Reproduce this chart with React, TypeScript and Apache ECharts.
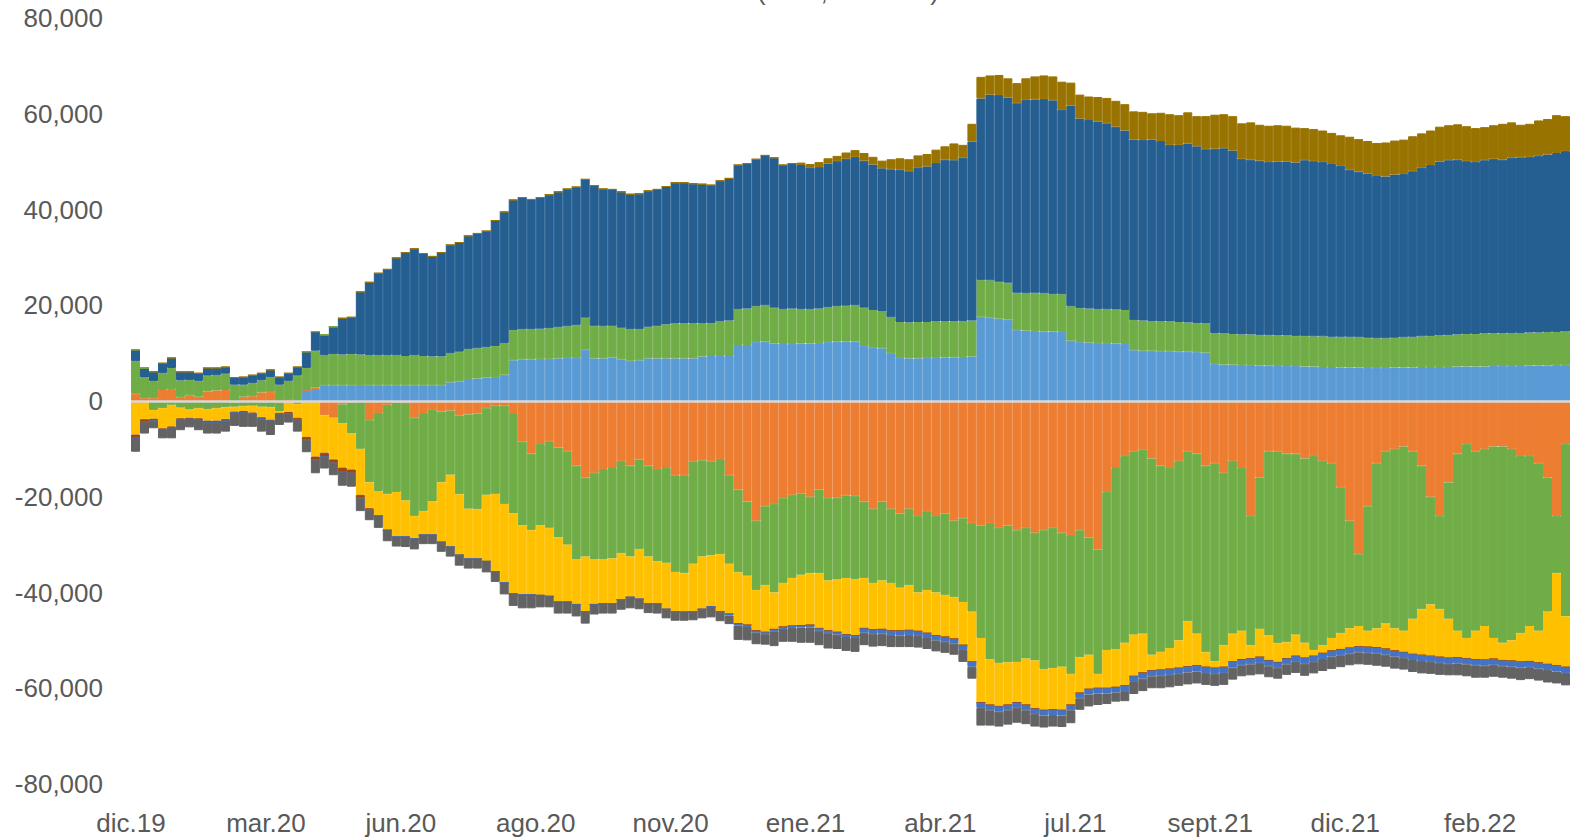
import React, { useEffect, useRef } from "react";
import * as echarts from "echarts";

const tickLabels = ["dic.19", "mar.20", "jun.20", "ago.20", "nov.20", "ene.21", "abr.21", "jul.21", "sept.21", "dic.21", "feb.22"];

const lightBlue = [
  0, 0, 0, 0, 0, 0, 0, 0, 0, 0,
  0, 0, 0, 0, 0, 0, 0, 0, 0, 2300,
  2500, 3300, 3300, 3300, 3300, 3300, 3300, 3300, 3300, 3300,
  3300, 3300, 3300, 3300, 3300, 3900, 4100, 4600, 4700, 4900,
  5000, 5500, 8500, 8700, 8700, 8800, 8800, 8900, 9000, 9000,
  10700, 8900, 8900, 9100, 8700, 8400, 8500, 8900, 8900, 8900,
  8900, 8900, 8900, 9300, 9400, 9400, 9400, 11700, 11700, 12300,
  12400, 12000, 11900, 11900, 12000, 12000, 12100, 12300, 12400, 12400,
  12400, 11500, 11100, 11000, 10000, 9000, 8900, 8900, 9000, 9000,
  9100, 9100, 9200, 9300, 17600, 17400, 17200, 17000, 14800, 14700,
  14600, 14500, 14500, 14400, 12600, 12300, 12200, 12100, 12100, 12000,
  11900, 10600, 10500, 10500, 10400, 10400, 10300, 10300, 10200, 10100,
  7700, 7600, 7600, 7500, 7500, 7400, 7400, 7300, 7300, 7300,
  7200, 7200, 7100, 7100, 7000, 7000, 7000, 6900, 6900, 6900,
  7000, 7000, 7000, 7100, 7100, 7100, 7100, 7200, 7200, 7200,
  7200, 7300, 7300, 7300, 7300, 7400, 7400, 7400, 7500, 7500,
];

const orange = [
  1500, 600, 600, 2300, 2500, 800, 1200, 900, 2000, 2200,
  2300, -300, 900, 1000, 1800, 1900, -400, 200, -300, 0,
  300, -3000, -3500, -700, -300, 0, -4000, -2500, -800, -300,
  -400, -3500, -2500, -1900, -2200, -2000, -3000, -2800, -2600, -1500,
  -1000, -1000, -2500, -8500, -11000, -9000, -8400, -9700, -10500, -13500,
  -16000, -15000, -14200, -14000, -12500, -13500, -12200, -13500, -14200, -14000,
  -15500, -15500, -12600, -12400, -12600, -12100, -15500, -18500, -21000, -25000,
  -22000, -21500, -20300, -19600, -19300, -20000, -18500, -20300, -20200, -19700,
  -19800, -21000, -22500, -21000, -22500, -23500, -22500, -24000, -23000, -24000,
  -23500, -25000, -24500, -25500, -26000, -25500, -26500, -26000, -27000, -26500,
  -27500, -27000, -26500, -27500, -28000, -27000, -28500, -31000, -19000, -14000,
  -11500, -10500, -10200, -12000, -13500, -14000, -12500, -10500, -11000, -13500,
  -13000, -15000, -12500, -14000, -24000, -16000, -10500, -10500, -11000, -11000,
  -12000, -11500, -12500, -13000, -18000, -25000, -32000, -22000, -13000, -10500,
  -10000, -9500, -10500, -13500, -20000, -24000, -17000, -11000, -9000, -10500,
  -10000, -9500, -9500, -10000, -11500, -11500, -13000, -16000, -24000, -9000,
];

const greenUp = [
  6800, 4300, 3500, 3500, 4400, 3500, 3200, 3300, 3300, 3200,
  3400, 3400, 2500, 2700, 2500, 3100, 3400, 4000, 5300, 4600,
  7700, 6300, 6500, 6400, 6500, 6400, 6300, 6300, 6300, 6300,
  6100, 6300, 6100, 6000, 6000, 6100, 6200, 6200, 6300, 6400,
  6500, 6600, 6300, 6300, 6300, 6300, 6400, 6500, 6600, 6900,
  6700, 6800, 6700, 6600, 6600, 6600, 6500, 6600, 6800, 7100,
  7300, 7300, 7300, 6900, 6900, 7300, 7400, 7500, 7600, 7500,
  7600, 7500, 7300, 7400, 7200, 7200, 7200, 7300, 7400, 7500,
  7600, 8000, 7900, 7700, 7500, 7500, 7500, 7600, 7500, 7600,
  7500, 7500, 7500, 7500, 7700, 7800, 7700, 7700, 7800, 7800,
  8000, 8000, 7800, 7900, 7200, 7100, 7100, 7100, 7100, 7100,
  7100, 6300, 6300, 6200, 6200, 6200, 6200, 6100, 6100, 6100,
  6500, 6500, 6400, 6400, 6400, 6400, 6400, 6400, 6400, 6300,
  6400, 6300, 6400, 6300, 6400, 6400, 6300, 6300, 6200, 6200,
  6200, 6300, 6400, 6400, 6500, 6600, 6700, 6700, 6800, 6800,
  6900, 6800, 6800, 6900, 6900, 6900, 6900, 7000, 6900, 7000,
];

const darkBlue = [
  2400, 2000, 2000, 2100, 2100, 1800, 1700, 1600, 1600, 1500,
  1400, 1500, 1600, 1700, 1500, 1500, 1600, 1600, 1800, 3400,
  4000, 4200, 5700, 7600, 7700, 13100, 15200, 17100, 17900, 20300,
  21600, 22200, 21400, 20900, 21700, 22600, 22800, 23700, 24000, 24200,
  26200, 27400, 27200, 27500, 27100, 27400, 27900, 28300, 28700, 28800,
  28900, 29300, 28700, 28500, 28400, 28200, 28300, 28400, 28500, 28800,
  29400, 29400, 29200, 29100, 28800, 29300, 29700, 30100, 30300, 30700,
  31300, 31300, 30100, 30300, 30100, 29500, 29600, 30000, 30300, 30700,
  31000, 30700, 30400, 29900, 30900, 31800, 31600, 32200, 32500, 33100,
  33800, 33700, 34100, 37400, 37900, 38800, 39000, 38700, 39600, 40400,
  40400, 40600, 40500, 38500, 41900, 39600, 39400, 39200, 38800, 38200,
  37500, 37700, 37700, 37900, 37700, 36900, 37000, 37400, 36900, 36400,
  38500, 38700, 38300, 36700, 36500, 36400, 36100, 36300, 36300, 36200,
  36700, 36600, 36400, 36100, 35700, 34900, 34600, 34300, 33900, 33800,
  34100, 34100, 34600, 35200, 35700, 36300, 36500, 36500, 36100, 35900,
  36200, 36500, 36300, 36600, 36700, 36700, 36900, 37100, 37400, 37700,
];

const gold = [
  0, 0, 0, 0, 0, 0, 0, 0, 0, 0,
  0, 0, 0, 0, 0, 0, 0, 0, 0, 0,
  0, 0, 0, 0, 0, 0, 0, 0, 0, 0,
  0, 0, 0, 0, 0, 0, 0, 0, 0, 0,
  0, 0, 0, 0, 0, 0, 0, 0, 0, 0,
  0, 0, 0, 0, 0, 0, 0, 0, 0, 0,
  0, 0, 0, 0, 0, 0, 0, 0, 0, 0,
  0, 0, 0, 0, 500, 800, 1000, 1100, 1100, 1300,
  1400, 1600, 1600, 1600, 2100, 2400, 2500, 2600, 2600, 2800,
  2800, 3500, 2700, 3700, 4500, 4000, 4200, 4000, 4200, 4500,
  4800, 4900, 5000, 5900, 4800, 5000, 4900, 5100, 5300, 5400,
  5500, 5900, 5900, 5500, 5900, 6400, 6200, 6500, 6300, 6900,
  7100, 7100, 7200, 7400, 7800, 7500, 7600, 7600, 7500, 7300,
  6700, 6700, 6600, 6500, 6400, 6900, 6800, 6800, 6900, 7100,
  7100, 7200, 7300, 7200, 7200, 7300, 7300, 7400, 7300, 7100,
  6900, 7000, 7500, 7400, 6800, 6900, 7400, 7400, 7900, 7300,
];

const greenDown = [
  0, 0, -1900, -1500, -800, -1400, -1800, -1500, -1700, -1500,
  -1300, -900, -1100, -1000, -1200, -1300, -1800, -300, -300, 0,
  0, 0, 0, -4000, -6500, -10000, -13000, -16300, -18700, -18700,
  -20400, -20500, -20500, -19100, -14800, -13400, -16500, -19700, -20000, -18100,
  -18400, -20500, -21000, -17500, -16000, -17000, -18100, -18800, -19500, -19500,
  -16500, -18000, -18800, -18900, -19300, -19000, -18700, -19000, -19300, -19800,
  -20200, -20500, -21400, -20100, -19600, -19900, -18500, -17300, -15500, -14500,
  -16500, -18500, -17700, -17400, -17000, -16000, -17500, -17200, -17100, -17300,
  -17400, -16000, -15500, -16500, -15500, -15500, -16000, -16000, -16500, -16000,
  -17000, -16000, -17500, -18500, -23500, -28500, -28200, -28600, -27500, -27300,
  -26700, -29000, -29300, -28000, -29000, -26500, -24500, -26000, -33000, -37800,
  -39000, -38300, -38400, -41000, -38900, -37600, -37500, -35500, -37600, -39000,
  -41400, -36000, -36100, -34000, -27000, -31600, -38500, -40100, -39400, -37800,
  -38500, -40500, -38500, -36500, -30500, -22500, -15000, -26000, -34500, -36000,
  -37500, -38500, -35000, -30000, -22500, -19500, -28500, -37000, -40500, -37500,
  -37000, -40000, -41000, -40000, -37000, -35500, -35000, -28000, -12000, -36000,
];

const yellow = [
  -7000, -3800, -1800, -4200, -4500, -2200, -1700, -2100, -2400, -2600,
  -2500, -1000, -1000, -1400, -2200, -2600, -300, -2000, -2900, -7500,
  -11600, -7800, -8700, -9200, -7500, -9600, -5400, -5200, -7500, -9400,
  -7600, -4800, -5000, -7000, -12500, -15100, -12700, -10500, -10400, -13900,
  -16300, -16500, -16800, -14500, -13500, -14600, -14300, -13500, -12000, -9500,
  -11500, -9500, -9300, -9400, -9700, -8500, -10500, -9800, -8900, -9700,
  -8300, -8100, -10000, -11000, -10800, -12000, -10500, -10700, -10300, -8500,
  -9800, -7700, -9200, -10000, -10600, -10800, -11500, -10500, -11000, -11800,
  -11800, -10500, -9800, -10200, -10000, -9000, -9400, -8100, -9000, -9000,
  -8800, -8700, -9000, -10500, -13500, -9500, -9100, -8900, -8500, -9700,
  -10100, -8600, -8700, -9100, -6500, -7500, -7200, -3000, -8000, -8000,
  -9000, -8700, -8200, -3300, -3800, -4400, -5800, -9500, -6700, -3100,
  -1400, -4600, -5900, -6000, -2800, -5900, -5200, -4000, -3400, -4500,
  -3200, -1300, -1700, -2700, -3400, -4100, -4300, -3400, -4000, -5300,
  -4700, -4500, -7400, -9600, -10800, -10000, -8200, -5600, -4300, -6000,
  -7100, -4400, -3700, -4300, -6000, -7400, -6700, -11000, -19300, -10600,
];

const brown = [
  -800, -500, -400, -400, -400, -400, -300, -400, -400, -400,
  -300, -300, -300, -300, -300, -300, -200, -400, -500, -600,
  -700, -800, -800, -1000, -800, -600, -300, 0, 0, 0,
  0, 0, 0, 0, 0, 0, 0, 0, 0, 0,
  0, 0, 0, 0, 0, 0, 0, 0, 0, 0,
  0, 0, 0, 0, 0, 0, 0, 0, 0, 0,
  0, 0, 0, 0, 0, 0, 0, 0, 0, 0,
  0, 0, 0, 0, 0, 0, 0, 0, 0, 0,
  0, 0, 0, 0, 0, 0, 0, 0, 0, 0,
  0, 0, 0, 0, 0, 0, 0, 0, 0, 0,
  0, 0, 0, 0, 0, 0, 0, 0, 0, 0,
  0, 0, 0, 0, 0, 0, 0, 0, 0, 0,
  0, 0, 0, 0, 0, 0, 0, 0, 0, 0,
  0, 0, 0, 0, 0, 0, 0, 0, 0, 0,
  0, 0, 0, 0, 0, 0, 0, 0, 0, 0,
  0, 0, 0, 0, 0, 0, 0, 0, 0, 0,
];

const blueDown = [
  0, 0, 0, 0, 0, 0, 0, 0, 0, 0,
  0, 0, 0, 0, 0, 0, 0, 0, 0, 0,
  0, 0, 0, 0, 0, 0, 0, 0, 0, 0,
  0, 0, 0, 0, 0, 0, 0, 0, 0, 0,
  0, 0, 0, 0, 0, 0, 0, 0, 0, 0,
  0, 0, 0, 0, 0, 0, 0, 0, 0, 0,
  0, 0, 0, 0, 0, 0, -300, -400, -400, -400,
  -400, -400, -400, -400, -400, -500, -500, -500, -500, -500,
  -500, -900, -900, -900, -900, -1000, -1000, -1000, -1000, -1000,
  -1000, -1000, -1000, -1000, -1100, -1100, -1100, -1100, -1100, -1100,
  -1100, -1100, -1100, -1100, -1100, -1100, -1100, -1100, -1100, -1100,
  -1100, -1200, -1200, -1200, -1200, -1200, -1200, -1200, -1200, -1200,
  -1200, -1200, -1200, -1200, -1200, -1200, -1200, -1200, -1200, -1200,
  -1200, -1200, -1200, -1200, -1200, -1200, -1200, -1200, -1200, -1200,
  -1200, -1200, -1200, -1200, -1200, -1200, -1200, -1200, -1200, -1200,
  -1200, -1200, -1200, -1200, -1200, -1200, -1200, -1200, -1200, -1200,
];

const gray = [
  -2800, -2500, -1600, -1700, -2100, -2100, -1700, -2100, -2300, -2300,
  -2300, -2700, -3000, -2700, -2700, -2900, -2300, -1800, -2400, -2600,
  -2800, -2500, -2500, -2800, -2800, -2800, -2200, -2500, -2300, -2000,
  -2100, -2200, -1900, -1900, -2000, -2000, -2200, -2000, -2000, -2300,
  -2100, -2400, -2500, -2800, -2800, -2500, -2300, -2400, -2400, -2500,
  -2500, -2100, -2100, -2100, -2100, -2300, -2100, -2000, -2000, -1900,
  -1900, -1800, -1800, -1900, -2200, -2000, -1800, -3000, -2800, -2400,
  -2200, -3100, -2700, -2900, -3200, -3200, -3000, -3200, -3000, -2900,
  -2900, -2600, -2600, -2600, -2500, -2400, -2500, -2400, -2300, -2300,
  -2300, -2300, -2500, -2500, -3700, -3200, -3100, -3000, -3100, -2900,
  -2600, -2500, -2400, -2400, -2700, -2400, -2500, -2400, -2200, -1900,
  -2100, -2500, -2600, -2500, -2600, -2600, -2500, -2500, -2500, -2500,
  -2500, -2500, -2500, -2300, -2300, -2400, -2300, -2200, -2200, -2300,
  -2500, -2400, -2500, -2600, -2500, -2400, -2500, -2500, -2600, -2500,
  -2500, -2400, -2500, -2600, -2500, -2500, -2400, -2500, -2500, -2600,
  -2500, -2500, -2400, -2500, -2600, -2500, -2500, -2600, -2500, -2600,
];

const LABEL_EVERY = 15;
const TEXT = "#595959";
const FONT = "Liberation Sans";

export default function App() {
  const ref = useRef<HTMLDivElement>(null);

  useEffect(() => {
    if (!ref.current) return;
    const chart = echarts.init(ref.current, null, { renderer: "svg" });
    const categories = lightBlue.map((_, i) => `d${i}`);

    const bar = (name: string, data: number[], color: string, extra: any = {}) => ({
      name,
      type: "bar",
      stack: "total",
      data,
      barCategoryGap: "0%",
      barGap: "0%",
      itemStyle: { color, borderColor: color, borderWidth: 1 },
      emphasis: { disabled: true },
      silent: true,
      ...extra,
    });

    chart.setOption({
      animation: false,
      grid: { left: 131, right: 0, top: 18, bottom: 55, containLabel: false },
      xAxis: {
        type: "category",
        data: categories,
        axisLine: { show: false, onZero: false },
        axisTick: { show: false },
        splitLine: { show: false },
        axisLabel: {
          interval: LABEL_EVERY - 1,
          formatter: (_v: string, idx: number) => tickLabels[idx / LABEL_EVERY] ?? "",
          color: TEXT,
          fontSize: 26,
          fontFamily: FONT,
          margin: 26,
          align: "center",
          padding: [0, 9, 0, 0],
        },
      },
      yAxis: {
        type: "value",
        min: -80000,
        max: 80000,
        interval: 20000,
        axisLine: { show: false },
        axisTick: { show: false },
        splitLine: { show: false },
        axisLabel: {
          formatter: (v: number) => v.toLocaleString("en-US"),
          color: TEXT,
          fontSize: 26,
          fontFamily: FONT,
          margin: 28,
        },
      },
      series: [
        bar("lightBlue", lightBlue, "#5B9BD5", {
          markLine: {
            silent: true,
            symbol: ["none", "none"],
            label: { show: false },
            lineStyle: { color: "#D9D9D9", width: 2.5, type: "solid" },
            data: [{ yAxis: 0 }],
          },
        }),
        bar("orange", orange, "#ED7D31"),
        bar("greenUp", greenUp, "#70AD47"),
        bar("darkBlue", darkBlue, "#255E91"),
        bar("gold", gold, "#997300"),
        bar("greenDown", greenDown, "#70AD47"),
        bar("yellow", yellow, "#FFC000"),
        bar("brown", brown, "#9E480E"),
        bar("blueDown", blueDown, "#4472C4"),
        bar("gray", gray, "#636363"),
      ],
      graphic: [
        {
          type: "text",
          x: 848,
          y: -22,
          style: {
            text: "(USD, millones)",
            fill: TEXT,
            font: `26px "${FONT}"`,
            align: "center",
            verticalAlign: "top",
          },
          silent: true,
        },
      ],
    });

    return () => chart.dispose();
  }, []);

  return (
    <div
      ref={ref}
      style={{ position: "absolute", left: 0, top: 0, width: 1570, height: 839 }}
    />
  );
}
